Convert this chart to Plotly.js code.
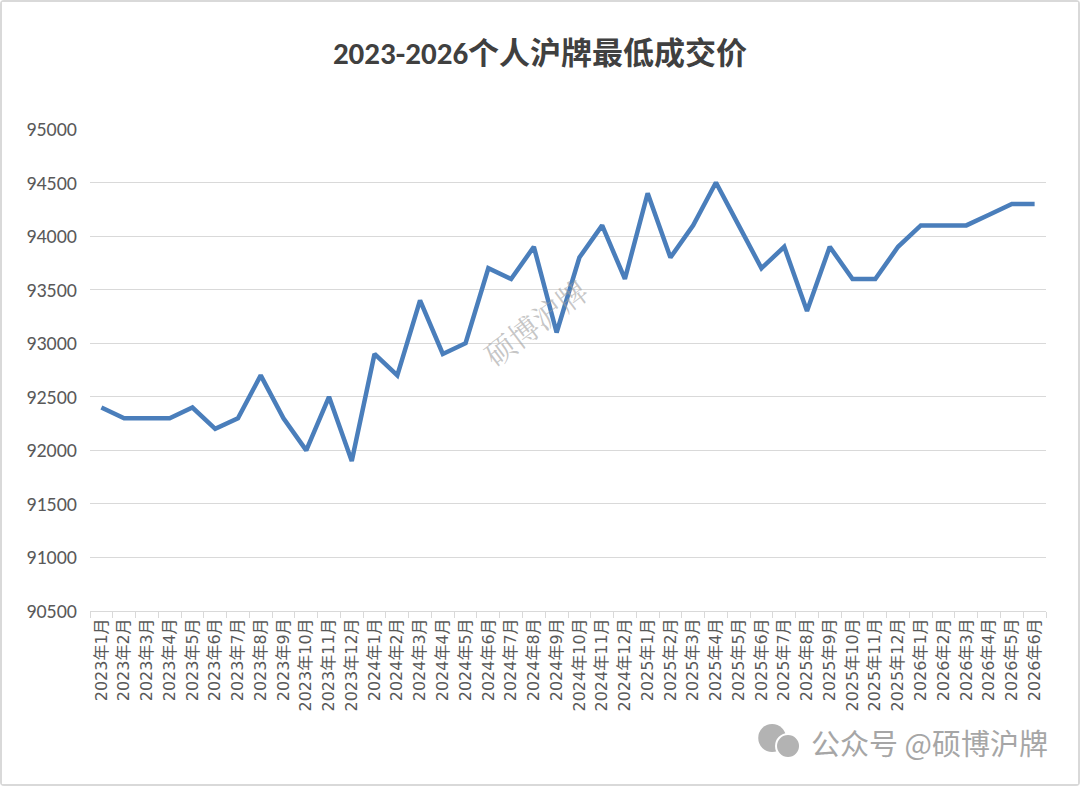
<!DOCTYPE html>
<html>
<head>
<meta charset="utf-8">
<script src="https://cdn.plot.ly/plotly-3.0.1.min.js"></script>
<style>
    html, body { margin: 0; padding: 0; background: #fff; }
    #chart { width: 1080px; height: 786px; box-sizing: border-box; border: 2px solid #d9d9d9; border-radius: 4px; }
</style>
</head>
<body>
<div id="chart"></div>
<script>
/* data */
const years = ['2023', '2024', '2025', '2026'];
const monthsPerYear = [12, 12, 12, 6];
const months = [];
years.forEach((y, i) => {
    for (let m = 1; m <= monthsPerYear[i]; m++) months.push(y + '年' + m + '月');
});

const prices2023 = [92400, 92300, 92300, 92300, 92400, 92200, 92300, 92700, 92300, 92000, 92500, 91900];
const prices2024 = [92900, 92700, 93400, 92900, 93000, 93700, 93600, 93900, 93100, 93800, 94100, 93600];
const prices2025 = [94400, 93800, 94100, 94500, 94100, 93700, 93900, 93300, 93900, 93600, 93600, 93900];
const prices2026 = [94100, 94100, 94100, 94200, 94300, 94300];
const prices = [...prices2023, ...prices2024, ...prices2025, ...prices2026];

const yTicks = [90500, 91000, 91500, 92000, 92500, 93000, 93500, 94000, 94500, 95000];

const TEXT_GRAY = '#595959';
const FONT = 'Carlito, Calibri, Lato, "Noto Sans CJK SC", sans-serif';
const LABEL_FONT = '"DejaVu Sans", "Noto Sans CJK SC", sans-serif';

Plotly.newPlot('chart', [{
    x: months,
    y: prices,
    type: 'scatter',
    mode: 'lines',
    line: { color: '#4a7ebb', width: 4.5, shape: 'linear' },
    hoverinfo: 'x+y',
}], {
    width: 1076,
    height: 782,
    margin: { l: 88, r: 32, t: 127, b: 173 },
    paper_bgcolor: '#ffffff',
    plot_bgcolor: '#ffffff',
    showlegend: false,
    title: {
        text: '<b>2023-2026个人沪牌最低成交价</b>',
        font: { family: FONT, size: 31, color: '#404040' },
        x: 0.5, xanchor: 'center',
        y: 0.934, yanchor: 'middle',
    },
    xaxis: {
        type: 'category',
        range: [-0.5, months.length - 0.5],
        tickangle: -90,
        tickfont: { family: LABEL_FONT, size: 16, color: TEXT_GRAY },
        ticks: 'outside', ticklen: 6, tickcolor: '#d9d9d9', tickwidth: 1,
        tickson: 'boundaries',
        showline: true, linecolor: '#d9d9d9', linewidth: 1,
        showgrid: false, zeroline: false,
        fixedrange: true,
    },
    yaxis: {
        range: [90500, 95000],
        tickvals: yTicks,
        ticktext: yTicks.map(String),
        tickfont: { family: FONT, size: 20, color: TEXT_GRAY },
        ticks: '', ticklabelstandoff: 12,
        showgrid: true, gridcolor: '#d9d9d9', gridwidth: 1,
        showline: false, zeroline: false,
        fixedrange: true,
    },
    shapes: [
        // little chat-bubble icon next to the account mark
        { type: 'circle', xref: 'paper', yref: 'paper', x0: 0.699, x1: 0.728, y0: -0.2925, y1: -0.2344,
          fillcolor: '#b3b3b3', line: { color: '#ffffff', width: 0 } },
        { type: 'circle', xref: 'paper', yref: 'paper', x0: 0.7176, x1: 0.7427, y0: -0.305, y1: -0.255,
          fillcolor: '#b3b3b3', line: { color: '#ffffff', width: 2 } },
    ],
    annotations: [
        {   // faint diagonal watermark
            text: '硕博沪牌', xref: 'paper', yref: 'paper',
            x: 0.465, y: 0.6, showarrow: false, textangle: -37,
            font: { family: '"Noto Serif CJK SC", "Noto Sans CJK SC", serif', size: 30, color: 'rgba(160,160,160,0.6)' },
        },
        {   // bottom-right account mark
            text: '公众号 @硕博沪牌', xref: 'paper', yref: 'paper',
            x: 1.004, y: -0.272, xanchor: 'right', yanchor: 'middle', showarrow: false,
            font: { family: '"Noto Sans CJK SC", sans-serif', size: 29, color: '#a6a6a6' },
        },
    ],
}, { displayModeBar: false, staticPlot: true });
</script>
</body>
</html>
